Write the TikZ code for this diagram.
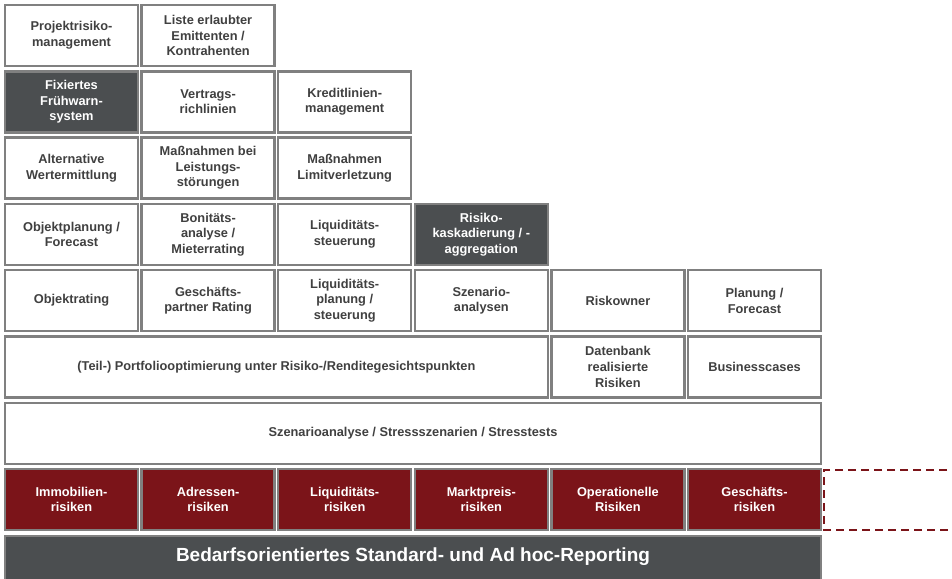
\documentclass[tikz,border=0pt]{standalone}
\usepackage{fontspec}
\setmainfont{Liberation Sans}
\definecolor{boxline}{HTML}{808080}
\definecolor{boxtext}{HTML}{404040}
\definecolor{darkfill}{HTML}{4B4E50}
\definecolor{redfill}{HTML}{7B1419}
\begin{document}
\begin{tikzpicture}[x=1pt,y=-1pt,
  base/.style={draw=boxline, line width=2.4pt, minimum width=133pt, minimum height=61pt,
    inner sep=1pt, align=center, font=\fontsize{12.8}{15.6}\selectfont\bfseries},
  wbox/.style={base, fill=white, text=boxtext},
  dbox/.style={base, fill=darkfill, text=white},
  rbox/.style={base, fill=redfill, text=white},
  dashbox/.style={draw=redfill, line width=2pt, dash pattern=on 8pt off 5pt},
  bar/.style={draw=boxline, line width=2.4pt, fill=darkfill, text=white,
    font=\fontsize{19}{22}\selectfont\bfseries}
]
\useasboundingbox (0,0) rectangle (952,578);
% row 1
\node[wbox] (r1c1) at (71.5,35.5) {Projektrisiko-\\management};
\node[wbox] (r1c2) at (208.1,35.5) {Liste erlaubter\\Emittenten /\\Kontrahenten};
% row 2
\node[dbox] (r2c1) at (71.5,101.8) {Fixiertes\\Frühwarn-\\system};
\node[wbox] (r2c2) at (208.1,101.8) {Vertrags-\\richlinien};
\node[wbox] (r2c3) at (344.7,101.8) {Kreditlinien-\\management};
% row 3
\node[wbox] (r3c1) at (71.5,168.1) {Alternative\\Wertermittlung};
\node[wbox] (r3c2) at (208.1,168.1) {Maßnahmen bei\\Leistungs-\\störungen};
\node[wbox] (r3c3) at (344.7,168.1) {Maßnahmen\\Limitverletzung};
% row 4
\node[wbox] (r4c1) at (71.5,234.4) {Objektplanung /\\Forecast};
\node[wbox] (r4c2) at (208.1,234.4) {Bonitäts-\\analyse /\\Mieterrating};
\node[wbox] (r4c3) at (344.7,234.4) {Liquiditäts-\\steuerung};
\node[dbox] (r4c4) at (481.3,234.4) {Risiko-\\kaskadierung / -\\aggregation};
% row 5
\node[wbox] (r5c1) at (71.5,300.7) {Objektrating};
\node[wbox] (r5c2) at (208.1,300.7) {Geschäfts-\\partner Rating};
\node[wbox] (r5c3) at (344.7,300.7) {Liquiditäts-\\planung /\\steuerung};
\node[wbox] (r5c4) at (481.3,300.7) {Szenario-\\analysen};
\node[wbox] (r5c5) at (617.9,300.7) {Riskowner};
\node[wbox] (r5c6) at (754.5,300.7) {Planung /\\Forecast};
% row 6
\node[wbox, minimum width=542.8pt] (r6a) at (276.4,367.0) {(Teil-) Portfoliooptimierung unter Risiko-/Renditegesichtspunkten};
\node[wbox] (r6c5) at (617.9,367.0) {Datenbank\\realisierte\\Risiken};
\node[wbox] (r6c6) at (754.5,367.0) {Businesscases};
% row 7
\node[wbox, minimum width=816pt] (r7) at (413,433.3) {Szenarioanalyse / Stressszenarien / Stresstests};
% row 8
\node[rbox] (r8c1) at (71.5,499.6) {Immobilien-\\risiken};
\node[rbox] (r8c2) at (208.1,499.6) {Adressen-\\risiken};
\node[rbox] (r8c3) at (344.7,499.6) {Liquiditäts-\\risiken};
\node[rbox] (r8c4) at (481.3,499.6) {Marktpreis-\\risiken};
\node[rbox] (r8c5) at (617.9,499.6) {Operationelle\\Risiken};
\node[rbox] (r8c6) at (754.5,499.6) {Geschäfts-\\risiken};
\draw[dashbox] (960,470) -- (824,470) -- (824,530) -- (960,530);
% row 9
\node[bar, minimum width=816pt, minimum height=46pt] (r9) at (413,559) {};
\node[text=white, font=\fontsize{19}{22}\selectfont\bfseries] (r9t) at (413,557) {Bedarfsorientiertes Standard- und Ad hoc-Reporting};
\end{tikzpicture}
\end{document}
